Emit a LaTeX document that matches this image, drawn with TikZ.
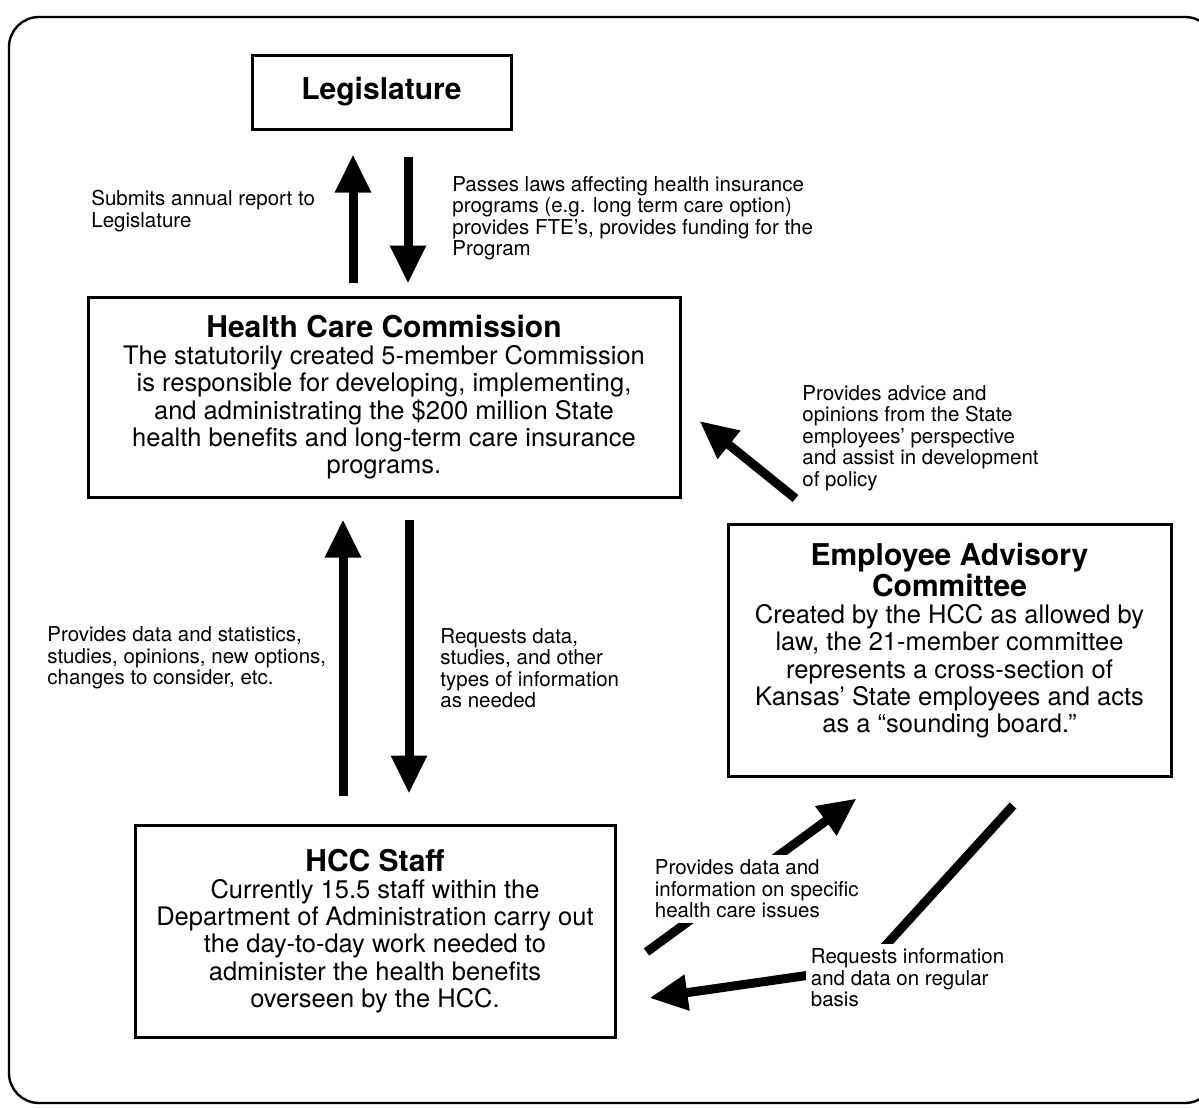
\documentclass[tikz,border=0pt]{standalone}
\usepackage{fontspec}
\setmainfont{TeX Gyre Heros}
\usetikzlibrary{arrows.meta}

\tikzset{
    box/.style={draw, line width=1.5pt, align=center, inner sep=0pt,
        font=\fontsize{12.75}{13.6}\selectfont},
    lbl/.style={align=left, anchor=west, inner sep=0pt,
        font=\fontsize{10.25}{10.75}\selectfont},
    bigarrow/.style={line width=4.5pt, -{Triangle[length=19pt,width=17pt]}}
}
\newcommand{\boxtitle}[1]{{\bfseries\fontsize{15}{16}\selectfont #1}}

\begin{document}
\begin{tikzpicture}[x=0.5pt, y=-0.5pt]
    \useasboundingbox (0,0) rectangle (1199,1108);
    \draw[line width=1.2pt, rounded corners=15pt] (9,17) rectangle (1215,1103);

    \node[box, minimum width=129.5pt, minimum height=37pt] (leg) at (381.5,92) {\boxtitle{Legislature}};
    \node[box, minimum width=296pt, minimum height=100pt] (hcc) at (384,397) {\boxtitle{Health Care Commission}\\
        The statutorily created 5-member Commission\\
        is responsible for developing, implementing,\\
        and administrating the \$200 million State\\
        health benefits and long-term care insurance\\
        programs.};
    \node[box, minimum width=221.5pt, minimum height=126pt] (eac) at (949.5,650) {\boxtitle{Employee Advisory}\\
        \boxtitle{Committee}\\
        Created by the HCC as allowed by\\
        law, the 21-member committee\\
        represents a cross-section of\\
        Kansas’ State employees and acts\\
        as a “sounding board.”\\[-1.5pt]};
    \node[box, minimum width=240pt, minimum height=106pt] (staff) at (375,931) {\boxtitle{HCC Staff}\\
        Currently 15.5 staff within the\\
        Department of Administration carry out\\
        the day-to-day work needed to\\
        administer the health benefits\\
        overseen by the HCC.};
    \coordinate (bend) at (866,967);

    \draw[bigarrow] ([shift={(-31,-13)}]hcc.north) -- ([shift={(-28.5,24)}]leg.south);
    \draw[bigarrow] ([shift={(26.5,26)}]leg.south) -- ([shift={(24,-12)}]hcc.north);
    \draw[bigarrow] ([shift={(-32,-28)}]staff.north) -- ([shift={(-41,21)}]hcc.south);
    \draw[bigarrow] ([shift={(25,21)}]hcc.south) -- ([shift={(34,-30)}]staff.north);
    \draw[bigarrow] ([shift={(69,-24)}]eac.north west) -- ([shift={(18,24)}]hcc.east);
    \draw[bigarrow] ([shift={(30,21)}]staff.east) -- ([shift={(130,21)}]eac.south west);
    \draw[bigarrow] ([shift={(63.5,28)}]eac.south) -- (bend) -- ([shift={(33,67)}]staff.east);

    \node[lbl] (submits) at (91,211) {Submits annual report to\\Legislature};
    \node[lbl] (passes) at (452,218) {Passes laws affecting health insurance\\
        programs (e.g. long term care option)\\
        provides FTE's, provides funding for the\\
        Program};
    \node[lbl] (advice) at (802,438) {Provides advice and\\
        opinions from the State\\
        employees’ perspective\\
        and assist in development\\
        of policy};
    \node[lbl] (providesdata) at (47,658) {Provides data and statistics,\\
        studies, opinions, new options,\\
        changes to consider, etc.};
    \node[lbl] (requestsdata) at (440,668) {Requests data,\\
        studies, and other\\
        types of information\\
        as needed};
    \node[lbl, fill=white, inner sep=2.5pt] (issues) at (649.5,889) {Provides data and\\
        information on specific\\
        health care issues};
    \node[lbl, fill=white, inner sep=2.5pt] (regular) at (805.5,978) {Requests information\\
        and data on regular\\
        basis};
\end{tikzpicture}
\end{document}
